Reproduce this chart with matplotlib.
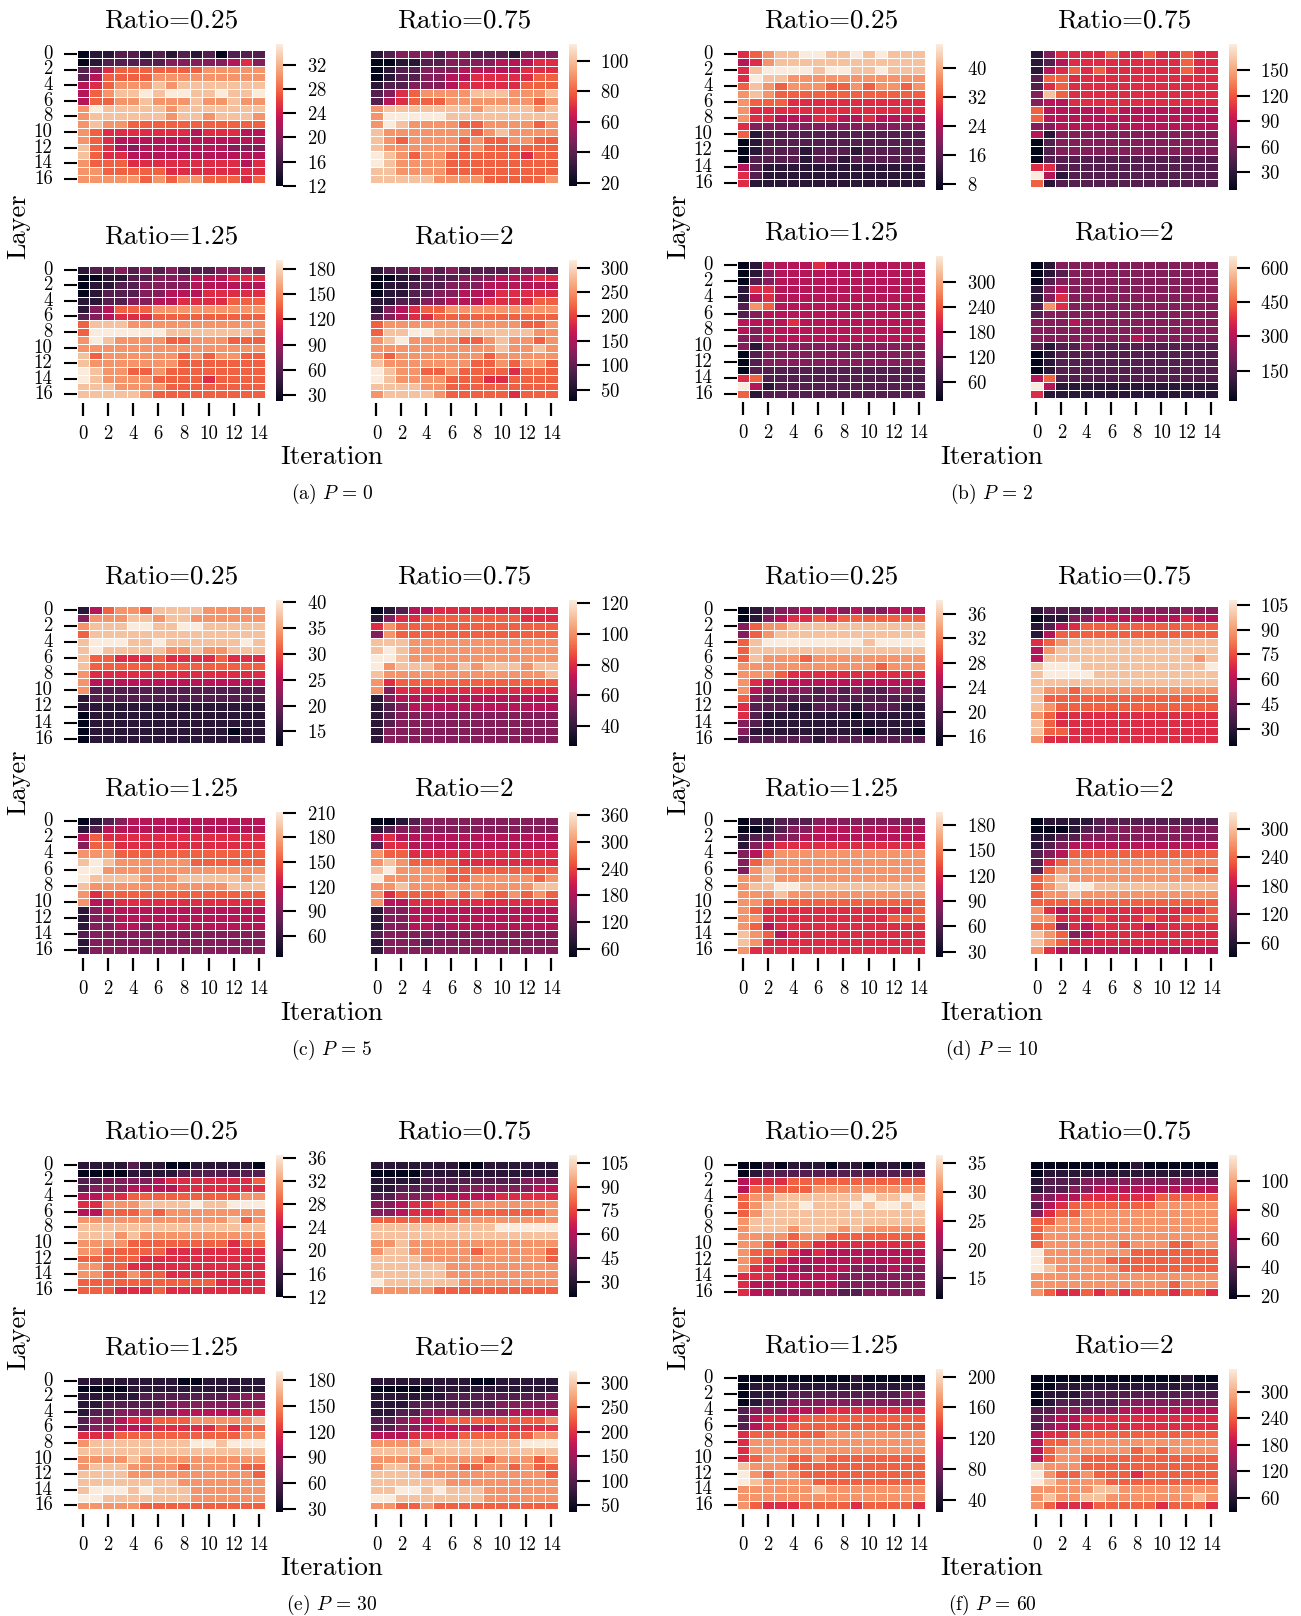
import numpy as np
import matplotlib
matplotlib.use("Agg")
import matplotlib.pyplot as plt
import seaborn as sns

# colour level read off each cell: 0 = darkest end of the colourbar, 9 = lightest end
# rows = layer 0..16, columns = iteration 0..14

# (a) P = 0
P0_R025 = ["011221212120222", "012222233333453", "235666666677777", "246666777777777",
           "456777878888888", "467889899889889", "466778777877877", "798888878888888",
           "788888878878887", "787766666666666", "765555555455544", "765444444444444",
           "865434444444333", "865544444444444", "766655555555545", "776666655555555",
           "777776767766656"]
P0_R075 = ["123332332221333", "001122333344455", "012233344444555", "012233445555566",
           "122333455555666", "235677778887778", "245666777777767", "788888887888878",
           "799999888888888", "798777766777767", "877777776787777", "876777767667766",
           "877777767666666", "987677666666566", "987777666666666", "887777666666666",
           "888887777666667"]
P0_R125 = ["122323232223332", "001122333444555", "011223333444444", "012223344455555",
           "112233445555666", "134666777777777", "234555666666666", "688877777777777",
           "699999988888887", "798777766777666", "777777777777777", "867777776767766",
           "877777776666666", "987766766666666", "987777666656666", "888777766666666",
           "888887666666666"]
P0_R2 = ["122332322223332", "001122233344455", "011222333444444", "011223344455555",
         "112233444555566", "134566777777777", "234556666666666", "677777777777667",
         "688998888888877", "789777766787767", "777777777787787", "767777777677777",
         "877777776676776", "987766766665666", "987777666556666", "888877666666666",
         "788887666665666"]

# (b) P = 2
P2_R025 = ["567889988989888", "457888888888888", "589999899889888", "598877777777777",
           "687677766767767", "787666666666666", "766655555555555", "755555555555555",
           "755444554454444", "533333333333333", "612222222222222", "012222222222222",
           "012221222122222", "022221221222222", "421111111111111", "521111111111111",
           "511111111111111"]
P2_R075 = ["135555655655655", "124555555555655", "145656555555655", "266555555555555",
           "256555555555555", "386555555555555", "344555555555555", "644444544444444",
           "644444444444444", "334444444444444", "413333333333333", "023333333333333",
           "023333333333333", "022222222222222", "552222222222222", "941222222222222",
           "612222222222222"]
P2_R125 = ["014444544444444", "013444444444444", "023444444444444", "155444444444444",
           "145444444444444", "276444444444444", "234444444444444", "444454444444444",
           "434444444444444", "334444444444444", "313333333333333", "023333333333333",
           "023333333333333", "022222222222222", "562222222222222", "941222222222222",
           "612222222222222"]
P2_R2 = ["013333333333333", "012333333333333", "023333333333333", "134333333333333",
         "135333333333333", "275333333333333", "233333333333333", "333433333333333",
         "333333333333333", "333333334333333", "212232222222222", "012222222222222",
         "012222222222222", "012222222222222", "462222222222222", "941111111111111",
         "511111111111111"]

# (c) P = 5
P5_R025 = ["146776888877777", "377788788777777", "788899889988888", "688888888888888",
           "899988988888898", "898888877877888", "866555655556555", "866666666666666",
           "755555555555555", "744444444444444", "722222222222222", "122222222222222",
           "111111111111111", "011111111111111", "011111111111111", "011111111111011",
           "011111111111111"]
P5_R075 = ["012445555555555", "135566666666555", "576666666666666", "376666666666666",
           "888777777777777", "898777777777777", "998777777777777", "978887787888788",
           "877777777777778", "756666666666666", "735555555555555", "134444444444444",
           "123444444444444", "123333333333333", "123333333333333", "133333333333333",
           "133333333333333"]
P5_R125 = ["012344444444444", "124444444444444", "465555555555555", "366555555555555",
           "777666666666666", "898777777666666", "997777777777777", "988887778888878",
           "877777777777888", "756666666666666", "744555555555555", "134444444444444",
           "133444444444444", "133443444444444", "233333333333333", "133333333333333",
           "133333333333333"]
P5_R2 = ["001233333333333", "123333333333333", "454444444444444", "255444444444444",
         "766555555555555", "787666655555555", "897777666666666", "977777667777767",
         "778777777777788", "756666767667676", "744555555555555", "133444444444444",
         "133444444444444", "133443444444444", "233333333333333", "133323333333333",
         "133333333333333"]

# (d) P = 10
P10_R025 = ["012334343433444", "013455656666666", "367788888888888", "367888888888888",
            "689999999989999", "688888888888888", "687776777777777", "777777777776777",
            "777655555555555", "754444444444444", "743333232322332", "632222222222222",
            "522211222122211", "521111111011111", "321111111111111", "311111111101110",
            "222222122222222"]
P10_R075 = ["122223333333333", "011334444444544", "124566666666666", "146666666666666",
            "567888888888888", "478888888888888", "488888888888878", "899988888888889",
            "899998888888888", "888888888888888", "877677777777777", "866666666666666",
            "876666666666666", "765555555555555", "865555555555555", "866555555555555",
            "755555555555555"]
P10_R125 = ["011222333333333", "001233444444444", "122334444444444", "134555555555555",
            "346777777777777", "367777777777777", "378777777777777", "778777777777777",
            "788998888888888", "777877777777777", "776666666666666", "765555555555556",
            "775555555555666", "764555555555555", "876455555555555", "875555555555555",
            "755555555555555"]
P10_R2 = ["011112222222222", "000122333333333", "112233333333333", "123444444444444",
          "234666666666666", "256777777777777", "267777777777766", "678777777777777",
          "678998888888888", "677877777777777", "666666666666666", "754555555555556",
          "775556555655666", "663545555455555", "876345555555555", "876555555555555",
          "754444444444444"]

# (e) P = 30
P30_R025 = ["111121100111110", "000011112222222", "223333455555556", "233344445555555",
            "445566666666677", "557778888988999", "446667677777777", "777777777777867",
            "888888888888888", "888787777777777", "777766666666566", "776666655555555",
            "666665555555555", "776655555555555", "776676655555555", "666666666665555",
            "666555655555555"]
P30_R075 = ["111111100111111", "000011111111111", "111122222222333", "112222233333344",
            "223334444455555", "334556667777777", "334555666666667", "666666677777777",
            "888888888899999", "888888888888888", "778777777777777", "788777776777776",
            "888877777777776", "888888777777777", "888888777777777", "988888877777777",
            "777776666666666"]
P30_R125 = ["111111110011111", "000011111111111", "111112222222333", "112222233333333",
            "122333334444455", "233455666777778", "233444555556566", "555666666666677",
            "788888888998999", "888888888888888", "777787777777777", "788877776777766",
            "888877777777776", "888888887777777", "899989888777777", "998888888777777",
            "777776666666666"]
P30_R2 = ["111111110011111", "000001111111111", "111111222222223", "111222222233333",
          "112233333334444", "223445666666667", "223344444455555", "444555566666677",
          "777788888888999", "888878888888888", "777787777677767", "788777766776766",
          "888877777777776", "888888777777777", "889989888777777", "998888888777777",
          "776676666666666"]

# (f) P = 60
P60_R025 = ["001011101101101", "012222222222222", "455566666666666", "466666777777777",
            "677888888898898", "678889888989989", "678888888888888", "788888888888888",
            "788878887877777", "777767766666666", "776566555555555", "766654544444444",
            "765544444444444", "755443444333433", "555444443333333", "544444443333333",
            "544333332233333"]
P60_R075 = ["000000001000000", "011111111111111", "122233333333333", "122334444444444",
            "334455555566666", "245666666677777", "356677777777777", "667777777777777",
            "677777777777777", "677777777777777", "677777767776677", "977777776666666",
            "977777666666666", "987777766666666", "777777777777777", "777777777776777",
            "765565656665665"]
P60_R125 = ["000000000100000", "011111111111111", "011122222222233", "012233333333333",
            "233344455555555", "245556666666666", "245566666666666", "566666677777777",
            "577777777777777", "577777777777777", "567766766666666", "877766666666666",
            "976776666666666", "987777666666666", "777777877777777", "777777777777777",
            "765556666566665"]
P60_R2 = ["000000000000100", "001111111111111", "011122222222222", "012222233333333",
          "223333344444444", "234455555555555", "234455555555555", "455666666666666",
          "466777777777777", "467777776767777", "467766666666666", "877766666666666",
          "976676665666666", "987777666666666", "777778877777777", "787788777777787",
          "765556666656665"]

# colourbar ranges (bottom, top) and tick values, order: 0.25, 0.75, 1.25, 2
P0_RANGE = [(12.0, 35.4), (18.0, 110.7), (23.0, 191.0), (27.0, 316.0)]
P2_RANGE = [(6.4, 46.6), (8.7, 180.7), (13.0, 365.0), (16.6, 654.0)]
P5_RANGE = [(12.2, 40.3), (27.0, 122.0), (34.0, 211.6), (41.3, 368.0)]
P10_RANGE = [(14.4, 38.2), (19.5, 107.8), (23.7, 195.7), (29.8, 336.5)]
P30_RANGE = [(12.0, 36.4), (20.8, 109.6), (27.3, 190.0), (36.4, 323.8)]
P60_RANGE = [(11.5, 36.3), (18.4, 117.5), (24.0, 209.5), (27.4, 351.5)]

P0_TICKS = [[12, 16, 20, 24, 28, 32], [20, 40, 60, 80, 100], [30, 60, 90, 120, 150, 180],
            [50, 100, 150, 200, 250, 300]]
P2_TICKS = [[8, 16, 24, 32, 40], [30, 60, 90, 120, 150], [60, 120, 180, 240, 300],
            [150, 300, 450, 600]]
P5_TICKS = [[15, 20, 25, 30, 35, 40], [40, 60, 80, 100, 120], [60, 90, 120, 150, 180, 210],
            [60, 120, 180, 240, 300, 360]]
P10_TICKS = [[16, 20, 24, 28, 32, 36], [30, 45, 60, 75, 90, 105], [30, 60, 90, 120, 150, 180],
             [60, 120, 180, 240, 300]]
P30_TICKS = [[12, 16, 20, 24, 28, 32, 36], [30, 45, 60, 75, 90, 105],
             [30, 60, 90, 120, 150, 180], [50, 100, 150, 200, 250, 300]]
P60_TICKS = [[15, 20, 25, 30, 35], [20, 40, 60, 80, 100], [40, 80, 120, 160, 200],
             [60, 120, 180, 240, 300]]

RATIOS = ["Ratio=0.25", "Ratio=0.75", "Ratio=1.25", "Ratio=2"]
CAPTIONS = ["(a) $P$ = 0", "(b) $P$ = 2", "(c) $P$ = 5", "(d) $P$ = 10",
            "(e) $P$ = 30", "(f) $P$ = 60"]

plt.rcParams["font.family"] = "serif"
plt.rcParams["font.serif"] = ["cmr10"]
plt.rcParams["mathtext.fontset"] = "cm"
plt.rcParams["axes.formatter.use_mathtext"] = True
plt.rcParams["axes.unicode_minus"] = False

W, H = 1301, 1616
fig = plt.figure(figsize=(W / 100, H / 100), dpi=100)


def box(x0, y0, x1, y1):
    # pixel box (top-left origin) -> figure fraction
    return [x0 / W, 1 - y1 / H, (x1 - x0) / W, (y1 - y0) / H]


def decode(grid, lo, hi):
    lv = np.array([[int(ch) for ch in row] for row in grid], dtype=float)
    return lo + lv / 9.0 * (hi - lo)


# vertical layout inside each panel: top heat, top cbar, bottom heat, bottom cbar
GEO_SHORT = [(50, 182.7), (44.3, 185.7), (265.7, 398.3), (260, 400.7)]
GEO_TALL = [(50, 186.7), (44.3, 190), (261.3, 398), (255.6, 401)]
GEO_MID = [(50, 185), (44.3, 187.7), (263.3, 398.3), (258.3, 401)]

panels = [
    ([P0_R025, P0_R075, P0_R125, P0_R2], P0_RANGE, P0_TICKS, 0, 0, GEO_SHORT),
    ([P2_R025, P2_R075, P2_R125, P2_R2], P2_RANGE, P2_TICKS, 660, 0, GEO_TALL),
    ([P5_R025, P5_R075, P5_R125, P5_R2], P5_RANGE, P5_TICKS, 0, 556, GEO_TALL),
    ([P10_R025, P10_R075, P10_R125, P10_R2], P10_RANGE, P10_TICKS, 660, 556, GEO_TALL),
    ([P30_R025, P30_R075, P30_R125, P30_R2], P30_RANGE, P30_TICKS, 0, 1111, GEO_SHORT),
    ([P60_R025, P60_R075, P60_R125, P60_R2], P60_RANGE, P60_TICKS, 660, 1111, GEO_MID),
]

heat_x = [(76.7, 265.0), (370.2, 557.6)]
cbar_x = [(276.0, 283.3), (569.2, 576.5)]

for p, (grids, ranges, ticks, xo, yo, geo) in enumerate(panels):
    for k in range(4):
        r, c = divmod(k, 2)
        hy = geo[0] if r == 0 else geo[2]
        cy = geo[1] if r == 0 else geo[3]
        ax = fig.add_axes(box(xo + heat_x[c][0], yo + hy[0], xo + heat_x[c][1], yo + hy[1]))
        cax = fig.add_axes(box(xo + cbar_x[c][0], yo + cy[0], xo + cbar_x[c][1], yo + cy[1]))
        lo, hi = ranges[k]
        sns.heatmap(decode(grids[k], lo, hi), ax=ax, cbar_ax=cax, cmap="rocket",
                    vmin=lo, vmax=hi, linewidths=0.7, linecolor="white",
                    xticklabels=2 if r == 1 else False,
                    yticklabels=2 if c == 0 else False,
                    cbar_kws={"ticks": ticks[k]})
        ax.tick_params(axis="y", length=9.1, width=1.5, pad=8.2, labelsize=13.5,
                       labelrotation=0)
        ax.tick_params(axis="x", length=9.6, width=1.6, pad=6.3, labelsize=13.5,
                       labelrotation=0)
        ax.spines["bottom"].set_position(("outward", 3.2))
        cax.tick_params(length=9.6, width=1.5, pad=7.2, labelsize=13.5)

        cx = xo + (heat_x[c][0] + heat_x[c][1]) / 2
        fig.text(cx / W, 1 - (yo + hy[0] - 29) / H, RATIOS[k], fontsize=19.5,
                 ha="center", va="center")

    fig.text((xo + 18.8) / W, 1 - (yo + 226) / H, "Layer", fontsize=19, rotation=90,
             ha="center", va="center")
    fig.text((xo + 332) / W, 1 - (yo + 457) / H, "Iteration", fontsize=19.5,
             ha="center", va="center")
    fig.text((xo + 332) / W, 1 - (yo + 493.5) / H, CAPTIONS[p], fontsize=14,
             ha="center", va="center")

fig.savefig("out.png", dpi=100)
